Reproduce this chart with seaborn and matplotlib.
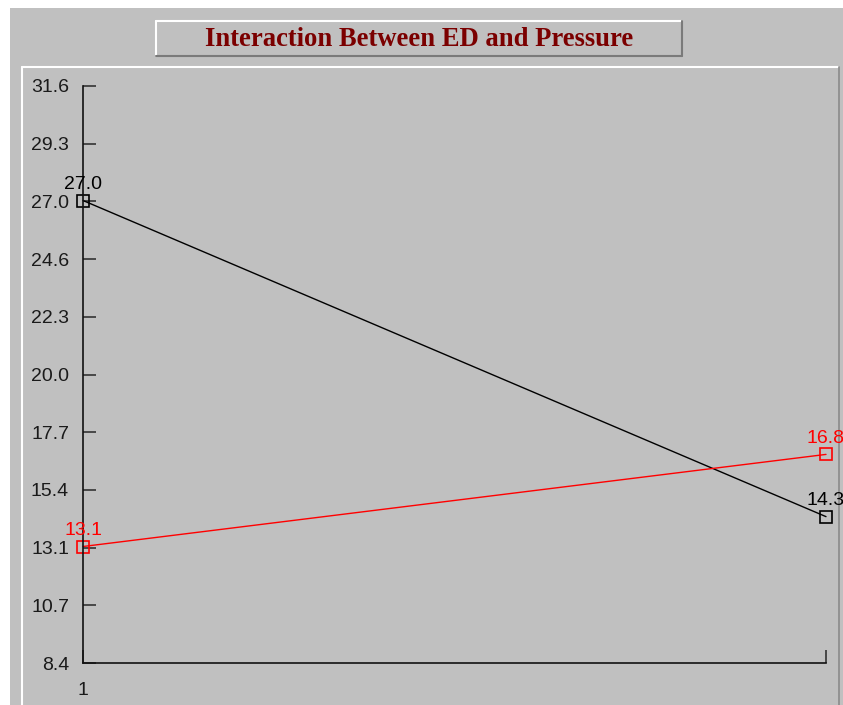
import matplotlib
matplotlib.use("Agg")
import matplotlib.pyplot as plt
from matplotlib.patches import Rectangle
from matplotlib.lines import Line2D
import numpy as np
import pandas as pd
import seaborn as sns

# Cell means for the ED x Pressure interaction
levels = [1, 2]
series_black = [27.0, 14.3]
series_red = [13.1, 16.8]
series_colors = ["#000000", "#FF0000"]
x_tick_labels = ["1", ""]
y_tick_labels = ["8.4", "10.7", "13.1", "15.4", "17.7", "20.0",
                 "22.3", "24.6", "27.0", "29.3", "31.6"]
y_min, y_max = 8.42, 31.6
title = "Interaction Between ED and Pressure"

df = pd.DataFrame({
    "level": levels * 2,
    "mean": series_black + series_red,
    "series": ["A"] * len(levels) + ["B"] * len(levels),
})

sns.set_style("white")
plt.rcParams["font.family"] = ["Liberation Sans", "DejaVu Sans"]

W, H = 843, 705
fig = plt.figure(figsize=(W / 100, H / 100), dpi=100, facecolor="white")

GRAY = "#C0C0C0"


def px_rect(x0, y0, x1, y1, **kw):
    # rectangle given in pixel coordinates measured from the top-left corner
    return Rectangle((x0 / W, 1 - y1 / H), (x1 - x0) / W, (y1 - y0) / H,
                     transform=fig.transFigure, **kw)


def px_line(x0, y0, x1, y1, **kw):
    return Line2D([x0 / W, x1 / W], [1 - y0 / H, 1 - y1 / H],
                  transform=fig.transFigure, **kw)


# outer window panel
fig.patches.append(px_rect(10, 8, W, H, facecolor=GRAY, edgecolor="none", zorder=-2))
# inner plot panel bevel
fig.lines.append(px_line(22, 67, 838, 67, color="white", lw=1.5, zorder=-1))
fig.lines.append(px_line(22, 67, 22, H, color="white", lw=1.5, zorder=-1))
fig.lines.append(px_line(839, 67, 839, H, color="#8A8A8A", lw=1.2, zorder=-1))

# title box with raised bevel
fig.patches.append(px_rect(156, 21, 682, 56, facecolor=GRAY, edgecolor="none", zorder=-1))
fig.lines.append(px_line(156, 21, 682, 21, color="white", lw=1.5, zorder=-0.5))
fig.lines.append(px_line(156, 21, 156, 56, color="white", lw=1.5, zorder=-0.5))
fig.lines.append(px_line(156, 56, 682, 56, color="#7A7A7A", lw=1.5, zorder=-0.5))
fig.lines.append(px_line(682, 21, 682, 56, color="#7A7A7A", lw=1.5, zorder=-0.5))
fig.text((156 + 682) / 2 / W, 1 - 40 / H, title, ha="center", va="center",
         fontsize=19.2, fontweight="bold", color="#7B0000",
         family=["Liberation Serif", "DejaVu Serif"], zorder=3)

ax = fig.add_axes([83 / W, 1 - 663 / H, (826 - 83) / W, (663 - 86) / H])
ax.set_facecolor("none")
ax.set_zorder(5)

palette = dict(zip(["A", "B"], series_colors))
for name, sub in df.groupby("series"):
    sns.lineplot(data=sub, x="level", y="mean", ax=ax, color=palette[name],
                 lw=1.0, marker="s", markersize=9, markerfacecolor="none",
                 markeredgecolor=palette[name], markeredgewidth=1.2,
                 clip_on=False, legend=False)
    for xv, yv in zip(sub["level"], sub["mean"]):
        ax.annotate(f"{yv:.1f}", (xv, yv), xytext=(0, 5.5), textcoords="offset points",
                    ha="center", va="bottom", fontsize=14, color=palette[name],
                    annotation_clip=False)

ax.set_xlim(levels[0], levels[-1])
ax.set_ylim(y_min, y_max)
ax.set_yticks(np.linspace(y_min, y_max, len(y_tick_labels)))
ax.set_yticklabels(y_tick_labels)
ax.set_xticks(levels)
ax.set_xticklabels(x_tick_labels)
ax.set_xlabel("")
ax.set_ylabel("")

for side in ["top", "right"]:
    ax.spines[side].set_visible(False)
for side in ["left", "bottom"]:
    ax.spines[side].set_color("#111111")
    ax.spines[side].set_linewidth(1.2)

ax.tick_params(axis="y", left=True, direction="in", length=9.5, width=1.2,
               color="#333333", pad=10, labelsize=14, labelcolor="#1a1a1a")
ax.tick_params(axis="x", bottom=True, direction="in", length=9.5, width=1.2,
               color="#333333", pad=14, labelsize=14, labelcolor="#1a1a1a")

fig.savefig("out.png", dpi=100, facecolor="white")
